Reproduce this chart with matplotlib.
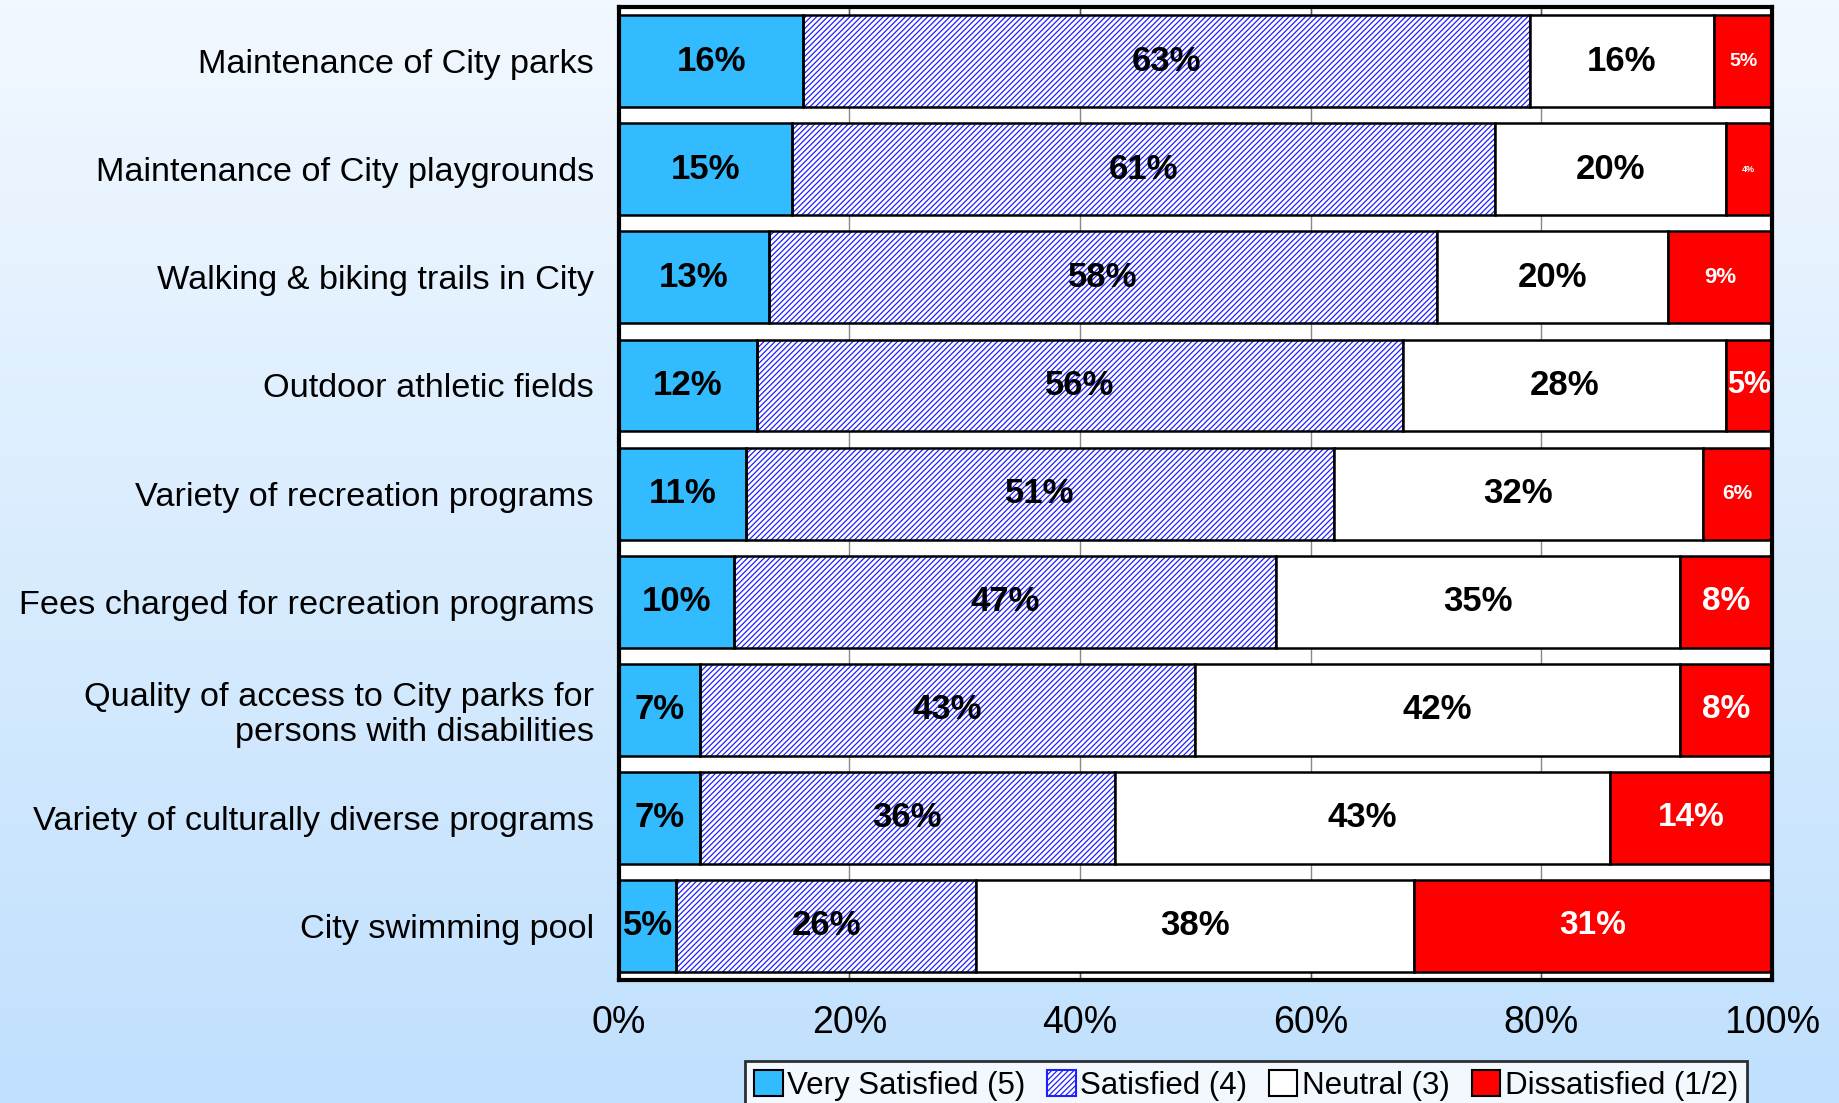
import matplotlib
matplotlib.use("Agg")
import matplotlib.pyplot as plt
import matplotlib.colors as mcolors
from matplotlib.patches import Patch
import numpy as np

plt.rcParams['font.family'] = ['Liberation Sans', 'DejaVu Sans']
plt.rcParams['hatch.linewidth'] = 0.9

categories = [
    "Maintenance of City parks",
    "Maintenance of City playgrounds",
    "Walking & biking trails in City",
    "Outdoor athletic fields",
    "Variety of recreation programs",
    "Fees charged for recreation programs",
    "Quality of access to City parks for\npersons with disabilities",
    "Variety of culturally diverse programs",
    "City swimming pool",
]
very_satisfied = [16, 15, 13, 12, 11, 10, 7, 7, 5]
satisfied = [63, 61, 58, 56, 51, 47, 43, 36, 26]
neutral = [16, 20, 20, 28, 32, 35, 42, 43, 38]
dissatisfied = [5, 4, 9, 5, 6, 8, 8, 14, 31]
series_names = ["Very Satisfied (5)", "Satisfied (4)", "Neutral (3)", "Dissatisfied (1/2)"]
xticks = [0, 20, 40, 60, 80, 100]

# label size of the red segments differs in the original (auto-fit)
red_label_sizes = [14, 6.5, 16, 22, 15, 24, 24, 24, 24]

fig = plt.figure(figsize=(18.39, 11.03), dpi=100)

# background gradient
bg = fig.add_axes([0, 0, 1, 1], zorder=-10)
cmap = mcolors.LinearSegmentedColormap.from_list("bg", ["#f2f8ff", "#c0e0fd"])
grad = np.linspace(0, 1, 256).reshape(-1, 1)
bg.imshow(grad, aspect="auto", cmap=cmap, extent=[0, 1, 0, 1], origin="upper")
bg.axis("off")

ax = fig.add_axes([0.3365, 0.1115, 0.627, 0.882])
ax.set_facecolor("white")

y = np.arange(len(categories))
h = 0.85
left = np.zeros(len(categories))
styles = [
    dict(color="#33bbff"),
    dict(color="white", hatch="//////", hatch_edge="#2020ff"),
    dict(color="white"),
    dict(color="#ff0000"),
]
data = [very_satisfied, satisfied, neutral, dissatisfied]

for k, (vals, st) in enumerate(zip(data, styles)):
    vals = np.array(vals, dtype=float)
    if "hatch" in st:
        ax.barh(y, vals, left=left, height=h, color=st["color"], hatch=st["hatch"],
                edgecolor=st["hatch_edge"], linewidth=0, zorder=2)
        ax.barh(y, vals, left=left, height=h, fill=False, edgecolor="black",
                linewidth=1.8, zorder=3)
    else:
        ax.barh(y, vals, left=left, height=h, color=st["color"], edgecolor="black",
                linewidth=1.8, zorder=3)
    for i, v in enumerate(vals):
        cx = (left[i] + min(left[i] + v, 100)) / 2
        if k == 3:
            ax.text(cx, y[i], f"{int(v)}%", ha="center", va="center", color="white",
                    fontsize=red_label_sizes[i], fontweight="bold", zorder=5)
        else:
            ax.text(cx, y[i], f"{int(v)}%", ha="center", va="center", color="black",
                    fontsize=25, fontweight="bold", zorder=5)
    left += vals

ax.set_xlim(0, 100)
ax.set_ylim(len(categories) - 0.5, -0.5)
ax.set_yticks(y)
ax.set_yticklabels(categories, fontsize=24.7, linespacing=1.15)
ax.tick_params(axis="y", length=0, pad=18)
ax.set_xticks(xticks)
ax.set_xticklabels([f"{t}%" for t in xticks], fontsize=27)
ax.tick_params(axis="x", direction="in", length=7, width=1, color="#555555",
               top=True, pad=18)
ax.grid(axis="x", color="#888888", linewidth=1, zorder=0)
ax.set_axisbelow(True)
for s in ax.spines.values():
    s.set_linewidth(3)
    s.set_color("black")
    s.set_zorder(6)

handles = [
    Patch(facecolor="#33bbff", edgecolor="black", linewidth=1.5),
    Patch(facecolor="white", edgecolor="#2020ff", hatch="//////", linewidth=1.5),
    Patch(facecolor="white", edgecolor="black", linewidth=1.5),
    Patch(facecolor="#ff0000", edgecolor="black", linewidth=1.5),
]
leg = fig.legend(handles, series_names, loc="upper left",
                 bbox_to_anchor=(745 / 1839, 1 - 1061 / 1103), ncol=4,
                 fontsize=22.5, frameon=True, fancybox=False, edgecolor="black",
                 handlelength=0.9, handleheight=0.9, handletextpad=0.15,
                 columnspacing=0.7, borderpad=0.3, borderaxespad=0)
leg.get_frame().set_linewidth(2)
leg.get_frame().set_facecolor("white")

fig.savefig("out.png", dpi=100)
